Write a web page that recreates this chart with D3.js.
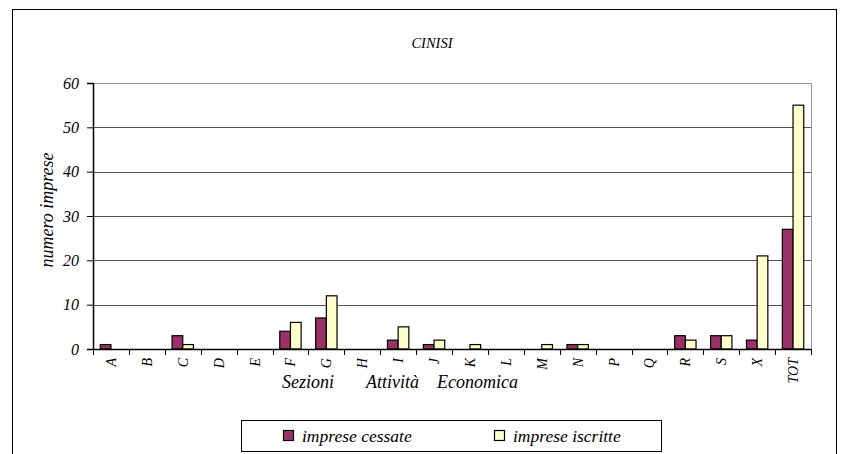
<!DOCTYPE html>
<html>
<head>
<meta charset="utf-8">
<script src="https://cdn.jsdelivr.net/npm/d3@7"></script>
<style>
  body { margin: 0; background: #fff; }
</style>
</head>
<body>
<div id="chart"></div>
<script>
// Sezioni di attività economica
const categories = ["A", "B", "C", "D", "E", "F", "G", "H", "I", "J", "K", "L", "M", "N", "P", "Q", "R", "S", "X", "TOT"];
const cessate   = [1, 0, 3, 0, 0, 4, 7, 0, 2, 1, 0, 0, 0, 1, 0, 0, 3, 3, 2, 27];
const iscritte  = [0, 0, 1, 0, 0, 6, 12, 0, 5, 2, 1, 0, 1, 1, 0, 0, 2, 3, 21, 55];
const seriesNames = ["imprese cessate", "imprese iscritte"];
const yTicks = [0, 10, 20, 30, 40, 50, 60];

const width = 841, height = 454;
const plot = { left: 93, right: 811, top: 83, bottom: 349 };
const colors = ["#993366", "#ffffcc"];
const serif = '"Liberation Serif"';

const svg = d3.select("#chart").append("svg")
  .attr("width", width)
  .attr("height", height);

// outer frame (bottom edge runs off the page)
svg.append("rect")
  .attr("x", 12.5).attr("y", 9.5)
  .attr("width", 824).attr("height", 460)
  .attr("fill", "none").attr("stroke", "#000").attr("stroke-width", 1);

const x = d3.scaleBand().domain(categories).range([plot.left, plot.right]).padding(0);
const y = d3.scaleLinear().domain([0, 60]).range([plot.bottom, plot.top]);

const inner = d3.scaleBand().domain(seriesNames)
  .range([0, x.bandwidth()]).paddingInner(0).paddingOuter(0.68);

// gridlines
svg.append("g")
  .selectAll("line")
  .data(yTicks.filter(d => d > 0))
  .join("line")
  .attr("x1", plot.left).attr("x2", plot.right)
  .attr("y1", d => Math.round(y(d)) + 0.5).attr("y2", d => Math.round(y(d)) + 0.5)
  .attr("stroke", "#555").attr("stroke-width", 1);

// plot area border: top + right in grey
svg.append("path")
  .attr("d", `M${plot.left},${plot.top + 0.5}H${plot.right + 0.5}V${plot.bottom}`)
  .attr("fill", "none").attr("stroke", "#999").attr("stroke-width", 1);

// bars
const series = [cessate, iscritte];
series.forEach((vals, si) => {
  svg.append("g")
    .selectAll("rect")
    .data(vals.map((v, i) => ({ cat: categories[i], v })).filter(d => d.v > 0))
    .join("rect")
    .attr("x", d => x(d.cat) + inner(seriesNames[si]))
    .attr("y", d => y(d.v))
    .attr("width", inner.bandwidth())
    .attr("height", d => y(0) - y(d.v))
    .attr("fill", colors[si])
    .attr("stroke", "#000")
    .attr("stroke-width", 1.2);
});

// y axis
const yAxis = svg.append("g")
  .attr("transform", `translate(${plot.left},0)`)
  .call(d3.axisLeft(y).tickValues(yTicks).tickSize(6).tickPadding(8));
yAxis.select(".domain").attr("stroke", "#000").attr("stroke-width", 1.5);
yAxis.selectAll(".tick line").attr("stroke", "#000");
yAxis.selectAll(".tick text").style("font-size", "16px");

// x axis
const xAxis = svg.append("g")
  .attr("transform", `translate(0,${plot.bottom})`)
  .call(d3.axisBottom(x).tickSize(0).tickFormat(""));
xAxis.select(".domain").attr("stroke", "#000").attr("stroke-width", 1.5);

// category boundary ticks
svg.append("g")
  .selectAll("line")
  .data(categories.map(c => x(c)).concat([plot.right]))
  .join("line")
  .attr("x1", d => Math.round(d) + 0.5).attr("x2", d => Math.round(d) + 0.5)
  .attr("y1", plot.bottom).attr("y2", plot.bottom + 6)
  .attr("stroke", "#000");

// rotated category labels
svg.append("g")
  .selectAll("text")
  .data(categories)
  .join("text")
  .attr("transform", d => `translate(${x(d) + x.bandwidth() / 2 + 5},${plot.bottom + 9}) rotate(-90)`)
  .attr("text-anchor", "end")
  .style("font-size", "14px")
  .text(d => d);

// x axis title, words spread as in original
const xTitle = [["Sezioni", 282], ["Attività", 366], ["Economica", 437]];
svg.append("g")
  .selectAll("text")
  .data(xTitle)
  .join("text")
  .attr("x", d => d[1])
  .attr("y", 388)
  .style("font-size", "18px")
  .text(d => d[0]);

// y axis title
svg.append("text")
  .attr("transform", `translate(53,${(plot.top + plot.bottom) / 2 - 6}) rotate(-90)`)
  .attr("text-anchor", "middle")
  .style("font-size", "18px")
  .text("numero imprese");

// chart title
svg.append("text")
  .attr("x", 432).attr("y", 48)
  .attr("text-anchor", "middle")
  .style("font-size", "14.5px")
  .text("CINISI");

// legend
const legend = svg.append("g");
legend.append("rect")
  .attr("x", 241.5).attr("y", 420.5)
  .attr("width", 420).attr("height", 31)
  .attr("fill", "#fff").attr("stroke", "#000");
const legendX = [283, 494];
seriesNames.forEach((name, i) => {
  legend.append("rect")
    .attr("x", legendX[i] + 0.5).attr("y", 430.5)
    .attr("width", 10).attr("height", 10)
    .attr("fill", colors[i]).attr("stroke", "#000").attr("stroke-width", 1.2);
  legend.append("text")
    .attr("x", legendX[i] + 19).attr("y", 442)
    .style("font-size", "17.5px")
    .text(name);
});

// every text in Times-like italic
svg.selectAll("text")
  .style("font-family", serif)
  .style("font-style", "italic")
  .attr("fill", "#000");
</script>
</body>
</html>
